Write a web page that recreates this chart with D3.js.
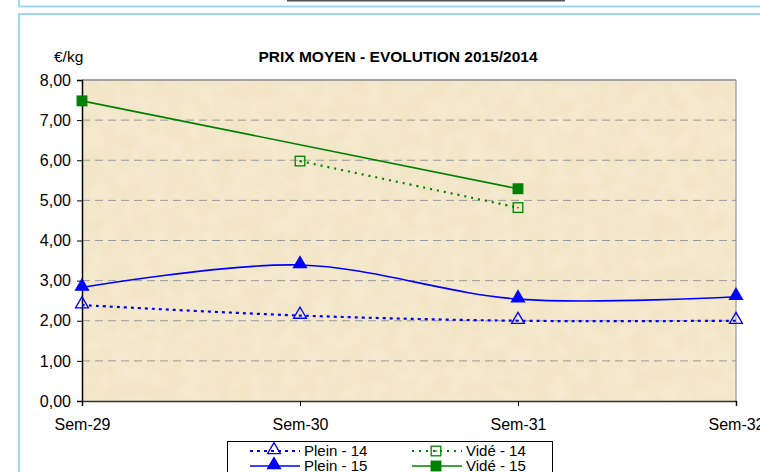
<!DOCTYPE html>
<html>
<head>
<meta charset="utf-8">
<script src="https://cdn.jsdelivr.net/npm/d3@7"></script>
<style>
  body { margin: 0; background: #fff; }
  svg { display: block; font-family: Arial, "Liberation Sans", sans-serif; }
</style>
</head>
<body>
<div id="chart"></div>
<script>
const weeks = ["Sem-29", "Sem-30", "Sem-31", "Sem-32"];
const yTicks = [0, 1, 2, 3, 4, 5, 6, 7, 8];

const plein14 = [2.39, 2.13, 2.00, 2.00];
const plein15 = [2.83, 3.39, 2.54, 2.60];
const vide14 = [null, 5.98, 4.82, null];
const vide15 = [7.48, null, 5.29, null];

const series = [
    { name: "Plein - 14", values: plein14, color: "#0000ff", dash: "3,4", filled: false, shape: "tri", smooth: true },
    { name: "Vidé - 14", values: vide14, color: "#008000", dash: "2,5", filled: false, shape: "sq", smooth: false },
    { name: "Plein - 15", values: plein15, color: "#0000ff", dash: null, filled: true, shape: "tri", smooth: true },
    { name: "Vidé - 15", values: vide15, color: "#008000", dash: null, filled: true, shape: "sq", smooth: false }
];

const W = 760, H = 472;
const svg = d3.select("#chart").append("svg")
    .attr("width", W)
    .attr("height", H);

// page frames
svg.append("line")
    .attr("x1", 287).attr("x2", 565).attr("y1", 0.5).attr("y2", 0.5)
    .attr("stroke", "#555").attr("stroke-width", 2);
svg.append("path")
    .attr("d", "M19,-5 V6.5 H770")
    .attr("fill", "none").attr("stroke", "#9dd7f0").attr("stroke-width", 2);
svg.append("path")
    .attr("d", "M19,480 V14 H770")
    .attr("fill", "none").attr("stroke", "#9dd7f0").attr("stroke-width", 2);

const pLeft = 82, pRight = 736, pTop = 80, pBottom = 401;

const x = d3.scalePoint().domain(weeks).range([pLeft, pRight]);
const y = d3.scaleLinear().domain([0, 8]).range([pBottom, pTop]);

// textured beige background
const defs = svg.append("defs");
const filt = defs.append("filter").attr("id", "paper")
    .attr("x", 0).attr("y", 0).attr("width", "100%").attr("height", "100%");
filt.append("feTurbulence").attr("type", "fractalNoise")
    .attr("baseFrequency", "0.06").attr("numOctaves", 3).attr("seed", 4).attr("result", "n");
filt.append("feColorMatrix").attr("in", "n").attr("type", "matrix")
    .attr("values", "0 0 0 0 0.93  0 0 0 0 0.86  0 0 0 0 0.70  0.9 0 0 0 -0.25")
    .attr("result", "c");
filt.append("feComposite").attr("in", "c").attr("in2", "SourceGraphic").attr("operator", "over");

svg.append("rect")
    .attr("x", pLeft).attr("y", pTop)
    .attr("width", pRight - pLeft).attr("height", pBottom - pTop)
    .attr("fill", "#f2e5c6")
    .attr("filter", "url(#paper)");

// grid
svg.append("g")
    .selectAll("line")
    .data(yTicks.filter(d => d > 0 && d < 8))
    .join("line")
    .attr("x1", pLeft).attr("x2", pRight)
    .attr("y1", d => y(d)).attr("y2", d => y(d))
    .attr("stroke", "#9a9a9a").attr("stroke-dasharray", "8,5");

// plot border
svg.append("line").attr("x1", pLeft).attr("x2", pRight).attr("y1", pTop).attr("y2", pTop)
    .attr("stroke", "#888").attr("stroke-width", 1.5);
svg.append("line").attr("x1", pRight).attr("x2", pRight).attr("y1", pTop).attr("y2", pBottom)
    .attr("stroke", "#888");

// axes
const fmt = d => d3.format(".2f")(d).replace(".", ",");
svg.append("g")
    .attr("transform", `translate(${pLeft},0)`)
    .call(d3.axisLeft(y).tickValues(yTicks).tickFormat(fmt).tickSize(5).tickPadding(6))
    .call(g => g.select(".domain").attr("stroke", "#000").attr("stroke-width", 1.5))
    .call(g => g.selectAll("text").attr("font-size", 16).attr("fill", "#000"));

svg.append("g")
    .attr("transform", `translate(0,${pBottom})`)
    .call(d3.axisBottom(x).tickSize(5).tickPadding(13))
    .call(g => g.select(".domain").attr("stroke", "#333").attr("stroke-width", 1.5))
    .call(g => g.selectAll("text").attr("font-size", 16).attr("fill", "#000"));

// titles
svg.append("text")
    .attr("x", 398).attr("y", 62)
    .attr("text-anchor", "middle")
    .attr("font-size", 15.5).attr("font-weight", "bold")
    .text("PRIX MOYEN - EVOLUTION 2015/2014");
svg.append("text")
    .attr("x", 54).attr("y", 62)
    .attr("font-size", 15.5)
    .text("€/kg");

// markers
const drawMarker = (g, s, cx, cy, size) => {
    if (s.shape === "tri") {
        g.append("path")
            .attr("d", d3.symbol(d3.symbolTriangle, size * 9)())
            .attr("transform", `translate(${cx},${cy - 1})`)
            .attr("fill", s.filled ? s.color : "none")
            .attr("stroke", s.color).attr("stroke-width", 1.3);
    } else {
        const h = size * 0.6;
        g.append("rect")
            .attr("x", cx - h).attr("y", cy - h)
            .attr("width", 2 * h).attr("height", 2 * h)
            .attr("fill", s.filled ? s.color : "none")
            .attr("stroke", s.color).attr("stroke-width", 1.3);
        if (!s.filled) {
            g.append("rect").attr("x", cx - 0.75).attr("y", cy - 0.75)
                .attr("width", 1.5).attr("height", 1.5).attr("fill", s.color);
        }
    }
};

series.forEach(s => {
    const pts = weeks.map((w, i) => ({ w, v: s.values[i] })).filter(d => d.v != null);
    const line = d3.line()
        .x(d => x(d.w)).y(d => y(d.v))
        .curve(s.smooth ? d3.curveCatmullRom.alpha(0.5) : d3.curveLinear);
    svg.append("path")
        .datum(pts)
        .attr("d", line)
        .attr("fill", "none")
        .attr("stroke", s.color)
        .attr("stroke-width", s.dash ? 2.2 : 1.6)
        .attr("stroke-dasharray", s.dash);
    const g = svg.append("g");
    pts.forEach(d => drawMarker(g, s, x(d.w), y(d.v), 8));
});

// legend
const lg = svg.append("g");
lg.append("rect")
    .attr("x", 227.5).attr("y", 441.5)
    .attr("width", 325).attr("height", 40)
    .attr("fill", "#fff").attr("stroke", "#000");

const legendPos = [
    { x: 250, y: 451 }, { x: 412, y: 451 },
    { x: 250, y: 466 }, { x: 412, y: 466 }
];
series.forEach((s, i) => {
    const p = legendPos[i];
    lg.append("line")
        .attr("x1", p.x).attr("x2", p.x + 50)
        .attr("y1", p.y).attr("y2", p.y)
        .attr("stroke", s.color)
        .attr("stroke-width", s.dash ? 2.2 : 1.6)
        .attr("stroke-dasharray", s.dash);
    drawMarker(lg, s, p.x + 24, p.y, 8);
    lg.append("text")
        .attr("x", p.x + 54).attr("y", p.y + 5)
        .attr("font-size", 15)
        .text(s.name);
});
</script>
</body>
</html>
